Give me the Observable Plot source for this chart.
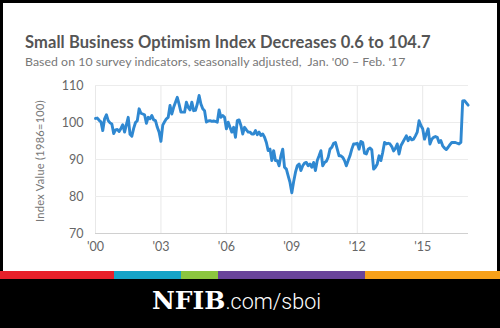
<!DOCTYPE html>
<html>
<head>
<meta charset="utf-8">
<script src="https://cdn.jsdelivr.net/npm/d3@7"></script>
<script src="https://cdn.jsdelivr.net/npm/@observablehq/plot@0.6"></script>
<style>
  html, body { margin: 0; padding: 0; }
  body { width: 500px; height: 328px; background: #000; position: relative; overflow: hidden; font-family: Lato, "Open Sans", sans-serif; }
  #panel { position: absolute; left: 3px; top: 3px; width: 494px; height: 268px; background: #fff; }
  #title { position: absolute; left: 25px; top: 34px; font-size: 16.5px; font-weight: bold; color: #555; line-height: 16px; white-space: nowrap; letter-spacing: 0.1px; }
  #subtitle { position: absolute; left: 25px; top: 55px; font-size: 12.3px; color: #777; line-height: 13px; white-space: nowrap; letter-spacing: 0.05px; }
  #ylabel { position: absolute; left: 39px; top: 161px; transform: translate(-50%, -50%) rotate(-90deg); font-size: 11px; color: #777; white-space: nowrap; letter-spacing: 0.3px; }
  #chart { position: absolute; left: 0; top: 75px; }
  #strip { position: absolute; left: 0; top: 271px; width: 500px; height: 8px; display: flex; }
  #strip div { height: 8px; }
  #footer { position: absolute; left: 152px; top: 286px; color: #fff; white-space: nowrap; }
  #footer .nfib { font-family: "DejaVu Serif", serif; font-weight: bold; font-size: 25px; letter-spacing: 0px; }
  #footer .url { font-family: Roboto, Lato, sans-serif; font-weight: 300; font-size: 21.5px; }
</style>
</head>
<body>
<div id="panel"></div>
<div id="title">Small Business Optimism Index Decreases 0.6 to 104.7</div>
<div id="subtitle">Based on 10 survey indicators, seasonally adjusted,&nbsp; Jan. '00 – Feb. '17</div>
<div id="ylabel">Index Value (1986=100)</div>
<div id="chart"></div>
<div id="strip"></div>
<div id="footer"><span class="nfib">NFIB</span><span class="url">.com/sboi</span></div>
<script>
// Monthly index values, Jan 2000 – Feb 2017
const startYear = 2000;
const indexValues = [
  101.1, 101.2, 100.6, 100.2, 97.8, 101.0, 102.1, 100.5, 99.9, 99.6, 97.0, 98.0,   // 2000
  98.1, 97.6, 98.4, 99.4, 97.4, 99.4, 101.4, 96.8, 96.3, 98.4, 100.0, 100.5,       // 2001
  103.7, 102.5, 102.3, 102.1, 99.8, 101.4, 101.0, 101.9, 100.7, 100.5, 98.7, 97.4, // 2002
  94.9, 99.3, 100.2, 101.0, 101.4, 104.6, 102.3, 104.1, 105.5, 106.8, 104.9, 102.8,// 2003
  102.8, 102.8, 105.5, 104.1, 103.4, 105.5, 103.2, 103.3, 105.0, 107.3, 105.0, 103.7,// 2004
  103.2, 100.1, 100.4, 100.5, 100.3, 100.4, 100.3, 100.1, 103.4, 101.4, 101.9, 101.4,// 2005
  98.3, 100.1, 98.7, 97.4, 98.7, 96.0, 100.5, 100.7, 99.2, 96.9, 98.7, 98.0,       // 2006
  97.4, 97.4, 96.9, 96.9, 97.8, 96.7, 97.4, 96.5, 96.9, 96.0, 94.6, 92.4,          // 2007
  92.8, 89.7, 92.4, 89.7, 89.7, 88.3, 91.0, 92.8, 87.9, 87.4, 85.6, 83.8,          // 2008
  81.0, 84.0, 86.5, 88.3, 88.8, 87.0, 88.3, 89.0, 89.2, 88.3, 88.8, 87.9,          // 2009
  89.2, 87.0, 89.7, 91.0, 92.4, 88.3, 89.2, 89.5, 90.6, 92.8, 93.3, 94.4,          // 2010
  94.6, 92.8, 91.0, 91.0, 90.6, 89.7, 88.3, 89.7, 91.0, 92.8, 94.2, 94.2,          // 2011
  94.4, 92.8, 94.9, 94.6, 91.7, 91.5, 92.8, 93.1, 92.6, 87.4, 87.9, 88.8,          // 2012
  91.0, 89.7, 91.9, 94.6, 94.2, 94.4, 94.2, 93.5, 92.3, 93.0, 94.2, 91.5,          // 2013
  93.7, 94.6, 95.5, 96.4, 95.1, 96.0, 95.3, 95.5, 96.4, 97.4, 100.5, 99.2,         // 2014
  98.3, 95.5, 96.9, 98.3, 94.2, 95.5, 96.0, 96.2, 96.0, 94.6, 95.1, 93.7,          // 2015
  93.1, 92.7, 93.3, 94.0, 94.6, 94.6, 94.6, 94.4, 94.2, 94.6, 105.8, 105.9,        // 2016
  105.3, 104.7                                                                     // 2017
];
const xTickYears = [2000, 2003, 2006, 2009, 2012, 2015];
const xTickLabels = ["'00", "'03", "'06", "'09", "'12", "'15"];
const yTicks = [70, 80, 90, 100, 110];
const stripColors = ["#e8202a", "#16a3c7", "#8cc63f", "#6a449b", "#f7a11a"];
const stripWidths = [114, 67, 37, 147, 135];

const data = indexValues.map((v, i) => ({t: startYear + i / 12, v}));

const chart = Plot.plot({
  width: 500,
  height: 180,
  marginLeft: 95,
  marginRight: 32,
  marginTop: 10,
  marginBottom: 22,
  style: {background: "transparent", fontFamily: "Lato, 'Open Sans', sans-serif", fontSize: "12.5px", color: "#666"},
  x: {domain: [2000, 2017.1]},
  y: {domain: [70, 110]},
  marks: [
    Plot.gridX(xTickYears, {stroke: "#e8e8e8", strokeOpacity: 1}),
    Plot.gridY(yTicks.filter(d => d > 70), {stroke: "#ececec", strokeOpacity: 1}),
    Plot.ruleY([70], {stroke: "#d0d0d0"}),
    Plot.axisX(xTickYears, {tickSize: 0, tickPadding: 9, label: null, tickFormat: (d) => xTickLabels[xTickYears.indexOf(d)]}),
    Plot.axisY(yTicks, {tickSize: 0, tickPadding: 12, label: null}),
    Plot.line(data, {x: "t", y: "v", stroke: "#2f88d1", strokeWidth: 2.9, strokeLinejoin: "round"})
  ]
});
document.getElementById("chart").appendChild(chart);

const strip = document.getElementById("strip");
stripColors.forEach((c, i) => {
  const d = document.createElement("div");
  d.style.width = stripWidths[i] + "px";
  d.style.background = c;
  strip.appendChild(d);
});
</script>
</body>
</html>
